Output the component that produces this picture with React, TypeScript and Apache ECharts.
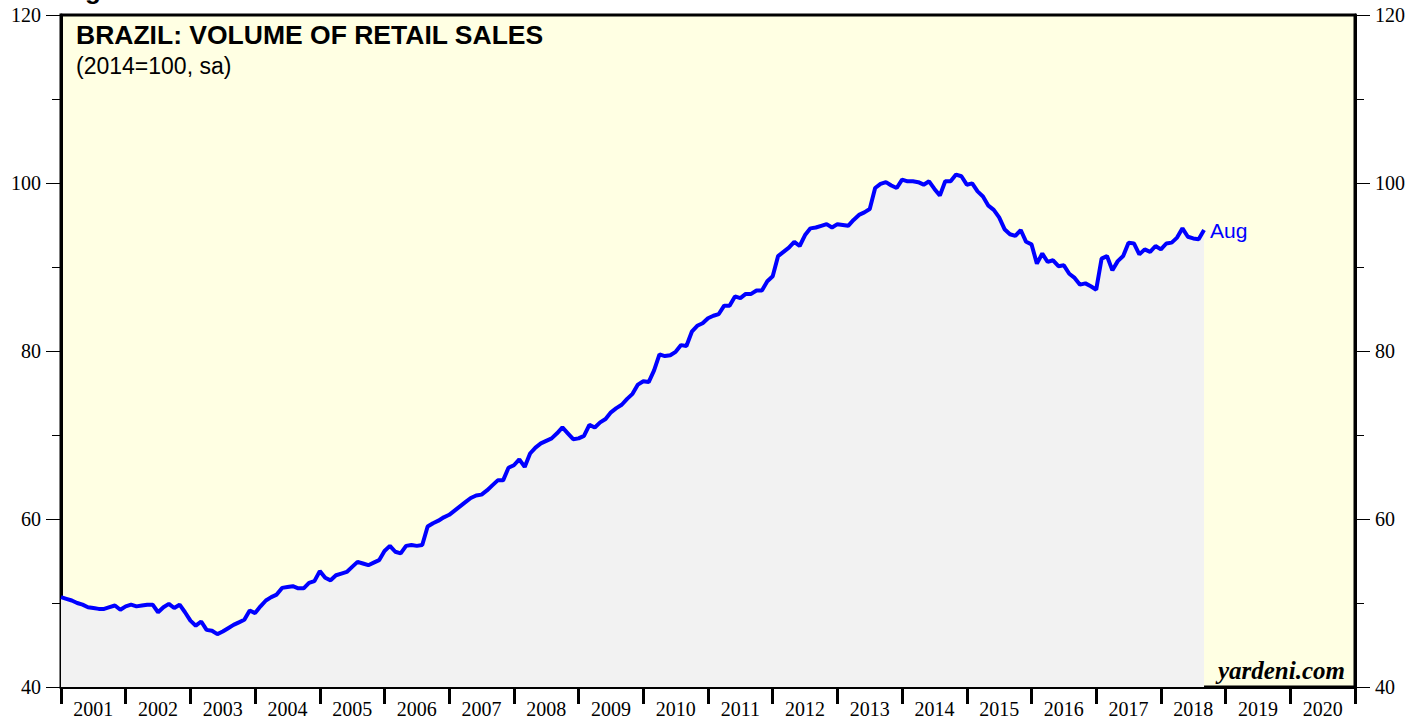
import React, { useEffect, useRef } from "react";
import * as echarts from "echarts";

const yearLabels = ["2001","2002","2003","2004","2005","2006","2007","2008","2009","2010","2011","2012","2013","2014","2015","2016","2017","2018","2019","2020"];
const startYear = 2001;

// Monthly values, end-of-month positioning; first value is Dec 2000
const dec2000 = [50.7];
const y2001 = [50.5, 50.3, 50.0, 49.8, 49.5, 49.4, 49.3, 49.3, 49.5, 49.7, 49.2, 49.6];
const y2002 = [49.8, 49.6, 49.7, 49.8, 49.8, 48.9, 49.5, 49.9, 49.4, 49.8, 48.9, 47.9];
const y2003 = [47.3, 47.8, 46.8, 46.7, 46.3, 46.6, 47.0, 47.4, 47.7, 48.0, 49.1, 48.8];
const y2004 = [49.6, 50.3, 50.7, 51.0, 51.8, 51.9, 52.0, 51.75, 51.75, 52.4, 52.6, 53.8];
const y2005 = [53.0, 52.7, 53.3, 53.5, 53.7, 54.3, 54.9, 54.7, 54.5, 54.8, 55.1, 56.2];
const y2006 = [56.8, 56.1, 55.9, 56.8, 56.9, 56.8, 56.9, 59.1, 59.5, 59.8, 60.2, 60.5];
const y2007 = [61.0, 61.5, 62.0, 62.5, 62.8, 62.9, 63.4, 64.0, 64.6, 64.6, 66.1, 66.4];
const y2008 = [67.1, 66.2, 67.8, 68.5, 69.0, 69.3, 69.6, 70.2, 70.9, 70.2, 69.5, 69.6];
const y2009 = [69.9, 71.2, 70.9, 71.5, 71.9, 72.7, 73.2, 73.6, 74.3, 74.9, 76.0, 76.4];
const y2010 = [76.3, 77.7, 79.6, 79.4, 79.5, 79.9, 80.7, 80.6, 82.3, 83.0, 83.3, 83.9];
const y2011 = [84.2, 84.4, 85.4, 85.4, 86.5, 86.3, 86.8, 86.8, 87.2, 87.2, 88.3, 88.9];
const y2012 = [91.3, 91.8, 92.3, 93.0, 92.5, 93.8, 94.6, 94.7, 94.9, 95.1, 94.7, 95.1];
const y2013 = [95.0, 94.9, 95.6, 96.2, 96.5, 96.9, 99.4, 99.9, 100.1, 99.7, 99.4, 100.4];
const y2014 = [100.2, 100.2, 100.1, 99.8, 100.2, 99.3, 98.5, 100.2, 100.2, 101.0, 100.8, 99.8];
const y2015 = [99.95, 99.0, 98.4, 97.3, 96.8, 95.9, 94.5, 93.9, 93.7, 94.4, 93.0, 92.7];
const y2016 = [90.4, 91.6, 90.6, 90.8, 90.1, 90.2, 89.2, 88.7, 87.9, 88.05, 87.7, 87.3];
const y2017 = [91.0, 91.3, 89.6, 90.7, 91.3, 92.9, 92.8, 91.5, 92.1, 91.8, 92.5, 92.1];
const y2018 = [92.8, 92.9, 93.5, 94.6, 93.6, 93.4, 93.3, 94.4];

const allValues = [
  ...dec2000, ...y2001, ...y2002, ...y2003, ...y2004, ...y2005, ...y2006, ...y2007,
  ...y2008, ...y2009, ...y2010, ...y2011, ...y2012, ...y2013, ...y2014, ...y2015,
  ...y2016, ...y2017, ...y2018,
];

const titleText = "BRAZIL: VOLUME OF RETAIL SALES";
const subtitleText = "(2014=100, sa)";

export default function App() {
  const ref = useRef<HTMLDivElement>(null);
  useEffect(() => {
    if (!ref.current) return;
    const chart = echarts.init(ref.current, undefined, { renderer: "svg" });
    const seriesData = allValues.map((v, j) => [startYear + j / 12, v]);
    const serif = "'Liberation Serif', 'Times New Roman', serif";
    const sans = "'Liberation Sans', Arial, Helvetica, sans-serif";
    const yAxisCommon = {
      type: "value",
      min: 40,
      max: 120,
      interval: 20,
      splitLine: { show: false },
      axisLine: { show: true, lineStyle: { color: "#000", width: 3 } },
      axisTick: { show: true, length: 15, lineStyle: { color: "#000", width: 1 } },
      minorTick: { show: true, splitNumber: 2, length: 9, lineStyle: { color: "#000", width: 1 } },
      axisLabel: { color: "#000", fontFamily: serif, fontSize: 20, margin: 20 },
    };
    chart.setOption({
      animation: false,
      grid: {
        left: 61,
        right: 73,
        top: 15,
        bottom: 34,
        show: true,
        backgroundColor: "#ffffe3",
        borderColor: "#000",
        borderWidth: 3,
      },
      xAxis: [
        { type: "value", min: 2001, max: 2021, show: false, position: "top" },
        {
          type: "category",
          data: yearLabels,
          position: "bottom",
          boundaryGap: true,
          axisLine: { show: true, lineStyle: { color: "#000", width: 3 } },
          axisTick: { show: true, interval: 0, length: 17, lineStyle: { color: "#000", width: 3 } },
          axisLabel: { interval: 0, color: "#000", fontFamily: serif, fontSize: 20, margin: 12 },
          splitLine: { show: false },
        },
      ],
      yAxis: [
        { ...yAxisCommon, position: "left" },
        { ...yAxisCommon, position: "right" },
      ],
      series: [
        {
          type: "line",
          xAxisIndex: 0,
          yAxisIndex: 0,
          data: seriesData,
          showSymbol: false,
          symbol: "none",
          lineStyle: { color: "#0000ff", width: 4 },
          areaStyle: { color: "#f2f2f2", opacity: 1, origin: "start" },
          z: 3,
          endLabel: {
            show: true,
            formatter: "Aug",
            color: "#0000ff",
            fontFamily: sans,
            fontSize: 21,
            distance: 6,
          },
        },
      ],
      graphic: [
        {
          type: "text",
          left: 76,
          top: 21,
          style: { text: titleText, fill: "#000", font: `bold 26.5px ${sans}` },
          z: 10,
        },
        {
          type: "text",
          left: 76,
          top: 54,
          style: { text: subtitleText, fill: "#000", font: `23px ${sans}` },
          z: 10,
        },
        {
          type: "text",
          right: 83,
          top: 658,
          style: { text: "yardeni.com", fill: "#000", font: `italic bold 25px ${serif}` },
          z: 10,
        },
        {
          type: "text",
          left: 62,
          top: -23,
          style: { text: "Figure 1.", fill: "#000", font: `bold 26px ${sans}` },
          z: 10,
        },
      ],
    });
    return () => chart.dispose();
  }, []);
  return (
    <div
      ref={ref}
      style={{ position: "fixed", left: 0, top: 0, width: 1428, height: 721, background: "#fff" }}
    />
  );
}
